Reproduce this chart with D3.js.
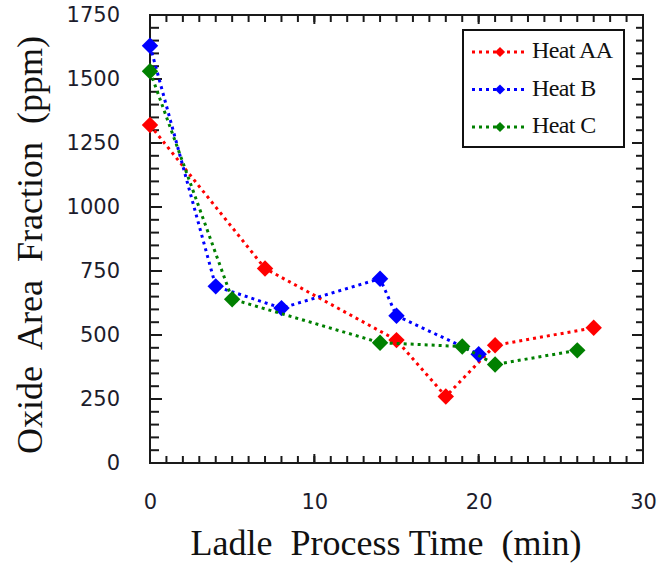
<html>
  <script src='https://d3js.org/d3.v7.min.js'></script>
  <head>
    <title>Oxide Area Fraction</title>
    <style>
      body { margin: 0; background: #fff; }
    </style>
  </head>
  <body>
    <svg></svg>
    <script>
      // values
      const seriesNames = ["Heat AA", "Heat B", "Heat C"];
      const heatAATime = [0, 7, 15, 18, 21, 27];
      const heatAAOxide = [1320, 760, 480, 260, 460, 528];
      const heatBTime = [0, 4, 8, 14, 15, 20];
      const heatBOxide = [1630, 690, 605, 720, 575, 425];
      const heatCTime = [0, 5, 14, 19, 21, 26];
      const heatCOxide = [1530, 640, 470, 455, 385, 440];
      const xTickLabels = [0, 10, 20, 30];
      const yTickLabels = [0, 250, 500, 750, 1000, 1250, 1500, 1750];

      const colors = ["#ff0000", "#0000ff", "#008000"];
      const series = [
        { name: seriesNames[0], x: heatAATime, y: heatAAOxide },
        { name: seriesNames[1], x: heatBTime, y: heatBOxide },
        { name: seriesNames[2], x: heatCTime, y: heatCOxide }
      ];

      const width = 660;
      const height = 564;
      const plotLeft = 150, plotRight = 643, plotTop = 15, plotBottom = 463;

      const svg = d3.select("svg").attr("width", width).attr("height", height);

      var x = d3.scaleLinear().domain([0, 30]).range([plotLeft, plotRight]);
      var y = d3.scaleLinear().domain([0, 1750]).range([plotBottom, plotTop]);

      // tick marks point inward on all four sides
      var xMinor = d3.range(0, 31, 1);
      var yMinor = d3.range(0, 1751, 50);
      var tickG = svg.append("g");
      function tickLines(values, x1, x2, y1, y2) {
        tickG.selectAll(null).data(values).enter().append("line")
          .attr("x1", x1).attr("x2", x2).attr("y1", y1).attr("y2", y2)
          .attr("stroke", "#1a1a1a").attr("stroke-width", 2);
      }
      function xTicks(values, len) {
        var px = function(d) { return x(d); };
        tickLines(values, px, px, plotBottom, plotBottom - len);
        tickLines(values, px, px, plotTop, plotTop + len);
      }
      function yTicks(values, lenL, lenR) {
        var py = function(d) { return y(d); };
        tickLines(values, plotLeft, plotLeft + lenL, py, py);
        tickLines(values, plotRight, plotRight - lenR, py, py);
      }
      xTicks(xMinor, 7);
      xTicks(xTickLabels, 9);
      yTicks(yMinor, 9, 7);
      yTicks(yTickLabels, 12, 11);

      svg.append("rect")
        .attr("x", plotLeft).attr("y", plotTop)
        .attr("width", plotRight - plotLeft).attr("height", plotBottom - plotTop)
        .attr("fill", "none").attr("stroke", "#1a1a1a").attr("stroke-width", 2);

      // tick labels
      var xl = svg.append("g").attr("transform", "translate(0," + plotBottom + ")")
        .call(d3.axisBottom(x).tickValues(xTickLabels).tickSize(0).tickPadding(31).tickFormat(d3.format("d")));
      xl.select(".domain").remove();
      var yl = svg.append("g").attr("transform", "translate(" + plotLeft + ",0)")
        .call(d3.axisLeft(y).tickValues(yTickLabels).tickSize(0).tickPadding(30).tickFormat(d3.format("d")));
      yl.select(".domain").remove();
      svg.selectAll(".tick text")
        .style("font-family", "DejaVu Sans")
        .style("font-size", "21px")
        .attr("fill", "#1c1c2c");

      // axis titles
      svg.append("text")
        .text("Ladle  Process Time  (min)")
        .attr("x", 386).attr("y", 555)
        .attr("text-anchor", "middle")
        .style("white-space", "pre")
        .style("font-family", "Liberation Serif")
        .style("font-size", "36px")
        .attr("fill", "#111");
      svg.append("text")
        .text("Oxide  Area  Fraction  (ppm)")
        .attr("transform", "translate(42,245) rotate(-90)")
        .attr("text-anchor", "middle")
        .style("white-space", "pre")
        .style("font-family", "Liberation Serif")
        .style("font-size", "36px")
        .attr("fill", "#111");

      var line = d3.line().x(function(d) { return x(d[0]); }).y(function(d) { return y(d[1]); });
      var bigDiamond = d3.symbol().type(d3.symbolSquare).size(135);
      var smallDiamond = d3.symbol().type(d3.symbolSquare).size(52);

      series.forEach(function(s, i) {
        var pts = s.x.map(function(v, j) { return [v, s.y[j]]; });
        svg.append("path")
          .datum(pts)
          .attr("fill", "none")
          .attr("stroke", colors[i])
          .attr("stroke-width", 3)
          .attr("stroke-dasharray", "3,4")
          .attr("d", line);
        svg.append("g").selectAll("path")
          .data(pts)
          .enter().append("path")
          .attr("d", bigDiamond)
          .attr("fill", colors[i])
          .attr("transform", function(d) { return "translate(" + x(d[0]) + "," + y(d[1]) + ") rotate(45)"; });
      });

      // legend
      var legend = svg.append("g");
      legend.append("rect")
        .attr("x", 463).attr("y", 30).attr("width", 161).attr("height", 117)
        .attr("fill", "#fff").attr("stroke", "#111").attr("stroke-width", 2);
      series.forEach(function(s, i) {
        var ly = 52 + i * 37.5;
        legend.append("line")
          .attr("x1", 472).attr("x2", 524).attr("y1", ly).attr("y2", ly)
          .attr("stroke", colors[i]).attr("stroke-width", 3)
          .attr("stroke-dasharray", "3,4");
        legend.append("path")
          .attr("d", smallDiamond)
          .attr("fill", colors[i])
          .attr("transform", "translate(500," + ly + ") rotate(45)");
        legend.append("text")
          .text(s.name)
          .attr("x", 532).attr("y", ly + 6)
          .style("font-family", "Liberation Serif")
          .style("font-size", "24px")
          .style("letter-spacing", "-0.6px")
          .attr("fill", "#111");
      });
    </script>
  </body>
</html>
